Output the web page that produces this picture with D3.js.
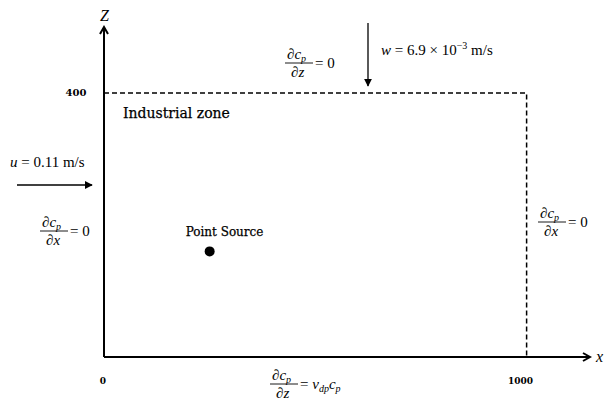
<!DOCTYPE html>
<html>
<head>
<meta charset="utf-8">
<script src="https://cdn.jsdelivr.net/npm/d3@7"></script>
<style>
  body { margin: 0; background: #fff; }
  .math { font-family: "Liberation Serif", serif; }
  .label { font-family: "DejaVu Serif", serif; }
</style>
</head>
<body>
<div id="chart"></div>
<script>
// Domain of the model (metres)
const xDomain = [0, 1150];
const zDomain = [0, 500];
const xTicks = [0, 1000];
const zTicks = [400];
const zoneBox = { x0: 0, x1: 1000, z0: 0, z1: 400 };
const source = [{ x: 250, z: 160, name: "Point Source" }];

const width = 606, height = 399;

const svg = d3.select("#chart").append("svg")
    .attr("width", width)
    .attr("height", height);

const x = d3.scaleLinear().domain(xDomain).range([104, 590]);
const z = d3.scaleLinear().domain(zDomain).range([357, 27]);

// arrow markers
const defs = svg.append("defs");
defs.append("marker")
    .attr("id", "chev")
    .attr("viewBox", "0 0 10 10")
    .attr("refX", 8).attr("refY", 5)
    .attr("markerWidth", 5).attr("markerHeight", 5)
    .attr("orient", "auto")
  .append("path")
    .attr("d", "M1,1 L8,5 L1,9")
    .attr("fill", "none")
    .attr("stroke", "#000")
    .attr("stroke-width", 2);
defs.append("marker")
    .attr("id", "tri")
    .attr("viewBox", "0 0 10 10")
    .attr("refX", 9).attr("refY", 5)
    .attr("markerWidth", 8).attr("markerHeight", 8)
    .attr("markerUnits", "userSpaceOnUse")
    .attr("orient", "auto")
  .append("path")
    .attr("d", "M0,0 L10,5 L0,10 Z")
    .attr("fill", "#000");

// dashed zone boundary (top and right)
svg.append("path")
    .attr("d", `M${x(zoneBox.x0)},${z(zoneBox.z1)} H${x(zoneBox.x1)} V${z(zoneBox.z0)}`)
    .attr("fill", "none")
    .attr("stroke", "#000")
    .attr("stroke-width", 1.5)
    .attr("stroke-dasharray", "5,3");

// axes
svg.append("line")
    .attr("x1", x(0)).attr("y1", z(0))
    .attr("x2", x(xDomain[1])).attr("y2", z(0))
    .attr("stroke", "#000").attr("stroke-width", 2)
    .attr("marker-end", "url(#chev)");
svg.append("line")
    .attr("x1", x(0)).attr("y1", z(0))
    .attr("x2", x(0)).attr("y2", z(zDomain[1]))
    .attr("stroke", "#000").attr("stroke-width", 2)
    .attr("marker-end", "url(#chev)");

// tick labels
svg.selectAll(".xtick")
    .data(xTicks)
  .enter().append("text")
    .attr("class", "label")
    .attr("x", d => x(d) - (d === 0 ? 1 : 6))
    .attr("y", z(0) + 27)
    .attr("text-anchor", "middle")
    .style("font-size", "9px")
    .style("font-weight", "bold")
    .text(d => d);
svg.selectAll(".ztick")
    .data(zTicks)
  .enter().append("text")
    .attr("class", "label")
    .attr("x", x(0) - 28)
    .attr("y", d => z(d) + 3)
    .attr("text-anchor", "middle")
    .style("font-size", "10px")
    .style("font-weight", "bold")
    .text(d => d);

// axis names
svg.append("text").attr("class", "math")
    .attr("x", x(0) - 4).attr("y", 21)
    .style("font-size", "16px").style("font-style", "italic")
    .text("Z");
svg.append("text").attr("class", "math")
    .attr("x", 596).attr("y", 362)
    .style("font-size", "16px").style("font-style", "italic")
    .text("x");

// labels
svg.append("text").attr("class", "label")
    .attr("x", 123).attr("y", 118)
    .style("font-size", "14px")
    .style("stroke", "#000").style("stroke-width", 0.25)
    .text("Industrial zone");

svg.selectAll(".src")
    .data(source)
  .enter().append("circle")
    .attr("cx", d => x(d.x))
    .attr("cy", d => z(d.z))
    .attr("r", 5)
    .attr("fill", "#000");
svg.selectAll(".srclabel")
    .data(source)
  .enter().append("text")
    .attr("class", "label")
    .attr("x", d => x(d.x) - 24)
    .attr("y", d => z(d.z) - 15)
    .style("font-size", "12px")
    .style("stroke", "#000").style("stroke-width", 0.25)
    .text(d => d.name);

// wind arrows
svg.append("line")
    .attr("x1", 368).attr("y1", 23).attr("x2", 368).attr("y2", 86)
    .attr("stroke", "#000").attr("stroke-width", 1.3)
    .attr("marker-end", "url(#tri)");
const w = svg.append("text").attr("class", "math")
    .attr("x", 381).attr("y", 55)
    .style("font-size", "15px");
w.append("tspan").style("font-style", "italic").text("w");
w.append("tspan").text(" = 6.9 \u00d7 10");
w.append("tspan").attr("dy", -6).style("font-size", "10px").text("\u22123");
w.append("tspan").attr("dy", 6).text(" m/s");

svg.append("line")
    .attr("x1", 17).attr("y1", 185).attr("x2", 92).attr("y2", 185)
    .attr("stroke", "#000").attr("stroke-width", 1.3)
    .attr("marker-end", "url(#tri)");
const u = svg.append("text").attr("class", "math")
    .attr("x", 10).attr("y", 167)
    .style("font-size", "15px");
u.append("tspan").style("font-style", "italic").text("u");
u.append("tspan").text(" = 0.11 m/s");

// boundary conditions as fractions
function fraction(cx, barY, den, rhs) {
  const g = svg.append("g").attr("class", "math");
  const num = g.append("text")
      .attr("x", cx).attr("y", barY - 4)
      .style("font-size", "15px");
  num.append("tspan").text("\u2202");
  num.append("tspan").style("font-style", "italic").text("c");
  num.append("tspan").attr("dy", 3).style("font-size", "10px").style("font-style", "italic").text("p");
  g.append("line")
      .attr("x1", cx - 2).attr("x2", cx + 26)
      .attr("y1", barY).attr("y2", barY)
      .attr("stroke", "#000").attr("stroke-width", 0.9);
  const d = g.append("text")
      .attr("x", cx + 4).attr("y", barY + 14)
      .style("font-size", "15px");
  d.append("tspan").text("\u2202");
  d.append("tspan").style("font-style", "italic").text(den);
  const r = g.append("text")
      .attr("x", cx + 28).attr("y", barY + 5)
      .style("font-size", "15px");
  rhs(r);
}
const eqZero = t => t.append("tspan").text("= 0");
fraction(287, 63, "z", eqZero);
fraction(42, 231, "x", eqZero);
fraction(540, 222, "x", eqZero);
fraction(272, 384, "z", t => {
  t.append("tspan").text("= ");
  t.append("tspan").style("font-style", "italic").text("v");
  t.append("tspan").attr("dy", 3).style("font-size", "10px").style("font-style", "italic").text("dp");
  t.append("tspan").attr("dy", -3).style("font-style", "italic").text("c");
  t.append("tspan").attr("dy", 3).style("font-size", "10px").style("font-style", "italic").text("p");
});
</script>
</body>
</html>
